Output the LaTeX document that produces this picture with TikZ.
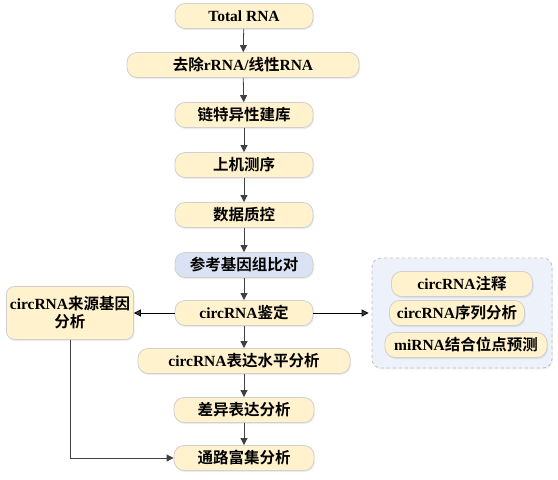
\documentclass[tikz,border=0pt]{standalone}
\usepackage{fontspec}
\setmainfont{Liberation Serif}
\newfontfamily\cjk{Noto Sans CJK SC}[BoldFont={Noto Sans CJK SC Bold}]
\newcommand{\zh}[1]{{\cjk #1}}
\usepackage{tikz}
\usetikzlibrary{arrows.meta,shadows}
\definecolor{boxfill}{HTML}{FFF2CC}
\definecolor{boxline}{HTML}{D0D0D0}
\definecolor{reffill}{HTML}{DAE3F3}
\definecolor{grpfill}{HTML}{EDF1F9}
\definecolor{grpline}{HTML}{BFBFBF}
\definecolor{arrowc}{HTML}{404040}
\tikzset{
  fc_node/.style = {rectangle, align=center, inner sep=1pt, text centered,
    font=\bfseries\fontsize{15.5}{18}\selectfont},
  fc_y/.style = {fc_node, rounded corners=10pt, draw=boxline, fill=boxfill,
    minimum height=25pt, minimum width=138pt,
    drop shadow={shadow xshift=1pt, shadow yshift=-1.5pt, opacity=.15}},% etape, jaune
  fc_b/.style = {fc_y, fill=reffill},% etape, bleu
  fc_l/.style = {fc_y, rounded corners=8pt, minimum width=127pt,
    minimum height=53pt},% boite a gauche
  fc_g/.style = {rectangle, rounded corners=9pt, draw=grpline, fill=grpfill,
    dashed, thick, minimum width=180pt, minimum height=110pt,
    drop shadow={shadow xshift=1pt, shadow yshift=-1.5pt, opacity=.1}},% groupe
}

\begin{document}
\begin{tikzpicture}[x=1pt,y=-1pt,->,>={Triangle[length=7pt,width=7pt]},
  thick,draw=arrowc]
  \useasboundingbox (0,0) rectangle (558,480);

  \node[fc_y] (a1) at (244,16) {Total RNA};
  \node[fc_y, minimum width=232pt] (a2) at (243,65) {\zh{去除}rRNA/\zh{线性}RNA};
  \node[fc_y] (a3) at (244,115) {\zh{链特异性建库}};
  \node[fc_y] (a4) at (244,165) {\zh{上机测序}};
  \node[fc_y] (a5) at (244,215) {\zh{数据质控}};
  \node[fc_b] (a6) at (244,265) {\zh{参考基因组比对}};
  \node[fc_y] (a7) at (244,313) {circRNA\zh{鉴定}};
  \node[fc_y, minimum width=212pt] (a8) at (244,361) {circRNA\zh{表达水平分析}};
  \node[fc_y, minimum width=140pt] (a9) at (244,410) {\zh{差异表达分析}};
  \node[fc_y, minimum width=140pt] (a10) at (244,458) {\zh{通路富集分析}};

  \node[fc_l] (b1) at (70,313) {circRNA\zh{来源基因}\\\zh{分析}};

  %   analyses circRNA
  \node[fc_g] (g1) at (462,313) {};
  \node[fc_y, minimum width=141pt] (c1) at (462,284) {circRNA\zh{注释}};
  \node[fc_y, minimum width=135pt] (c2) at (457,313) {circRNA\zh{序列分析}};
  \node[fc_y, minimum width=162pt] (c3) at (466,345) {miRNA\zh{结合位点预测}};

  %   flux principal
  \path (a1) edge (a2);
  \path (a2) edge (a3);
  \path (a3) edge (a4);
  \path (a4) edge (a5);
  \path (a5) edge (a6);
  \path (a6) edge (a7);
  \path (a7) edge (a8);
  \path (a8) edge (a9);
  \path (a9) edge (a10);
  %   branches
  \path[black] (a7) edge (b1);
  \path[black] (a7) edge[shorten >=3pt] (g1);
  \draw (b1.south) |- (a10.west);
\end{tikzpicture}
\end{document}
